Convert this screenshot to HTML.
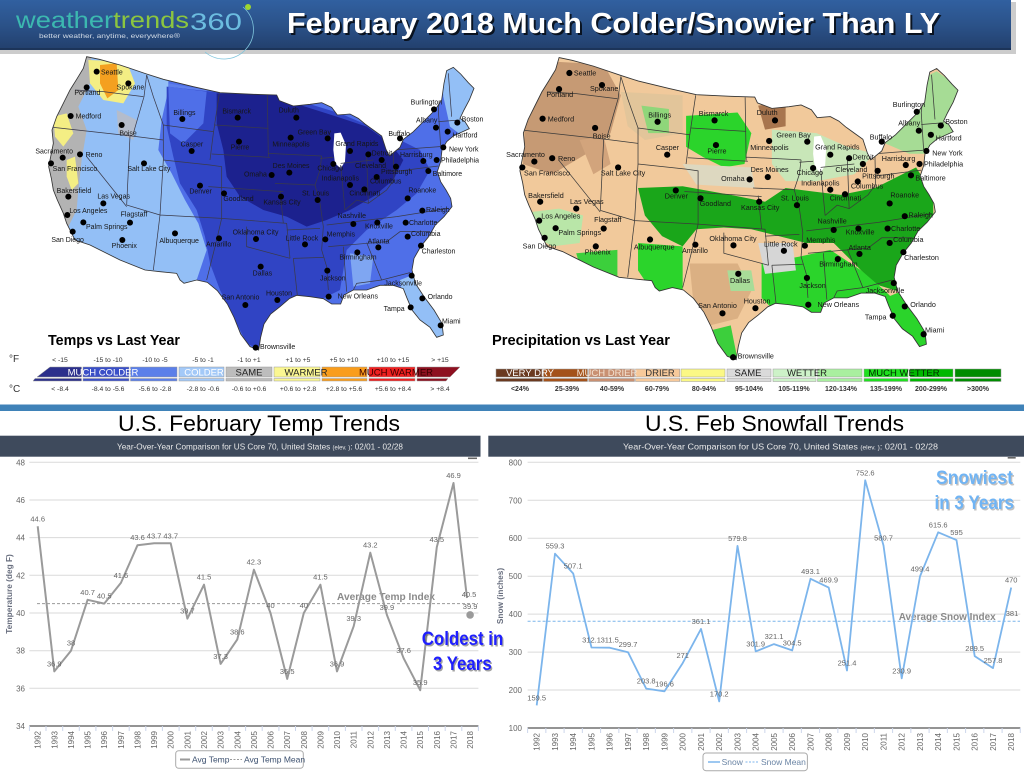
<!DOCTYPE html>
<html><head><meta charset="utf-8"><style>
html,body{margin:0;padding:0;background:#fff;}
body{width:1024px;height:772px;overflow:hidden;position:relative;}
svg{position:absolute;left:0;top:0;font-family:"Liberation Sans",sans-serif;}
</style></head><body>
<svg width="1024" height="772" viewBox="0 0 1024 772" xmlns="http://www.w3.org/2000/svg">
<defs>
<linearGradient id="hdr" x1="0" y1="0" x2="0" y2="1">
<stop offset="0" stop-color="#3160a0"/><stop offset="0.5" stop-color="#2b5289"/><stop offset="1" stop-color="#223f6c"/>
</linearGradient>
<path id="usp" d="M200,20 L238,28 L300,45 L380,72 L430,88 L520,110 L600,128 L700,133 L770,135 L778,152 L820,168 L870,163 L905,158 L935,172 L952,195 L990,192 L1015,205 L1035,222 L1060,240 L1085,258 L1098,298 L1108,318 L1140,292 L1150,268 L1180,245 L1215,210 L1245,180 L1265,150 L1272,100 L1280,62 L1300,52 L1322,72 L1345,98 L1362,115 L1348,150 L1332,180 L1320,205 L1335,215 L1348,236 L1326,246 L1300,258 L1280,275 L1266,300 L1262,335 L1252,365 L1262,395 L1278,420 L1292,445 L1296,470 L1272,500 L1246,525 L1226,560 L1202,590 L1182,625 L1176,660 L1186,700 L1212,740 L1242,780 L1266,820 L1270,855 L1250,862 L1230,832 L1200,810 L1176,780 L1160,742 L1150,716 L1120,706 L1080,706 L1040,720 L1000,720 L972,735 L962,762 L935,762 L910,746 L870,740 L830,736 L808,746 L780,770 L752,792 L732,822 L722,862 L716,900 L690,890 L662,852 L642,802 L622,762 L592,722 L562,697 L530,690 L492,700 L480,690 L470,670 L420,665 L375,660 L300,630 L240,600 L210,585 L165,570 L155,550 L140,520 L130,490 L112,450 L100,420 L94,385 L86,350 L92,320 L100,280 L96,240 L110,200 L130,160 L150,120 L170,88 L190,55 Z"/>
<clipPath id="usclip"><use href="#usp"/></clipPath>
<path id="brd" fill="none" d="M165,120 L250,125 L370,140 M380,75 L372,140 L340,250 M100,232 L335,258 L430,270 M380,75 L400,140 L430,225 L430,330 M430,225 L580,245 M598,130 L580,250 L570,330 M585,225 L745,235 M742,136 L745,320 M575,312 L750,322 M565,410 L790,425 M430,330 L570,345 L605,350 L605,505 M420,495 L605,505 M330,258 L320,465 M200,320 L320,470 M320,465 L420,495 M430,330 L420,495 M420,495 L400,660 M605,505 L590,570 L560,690 M605,505 L800,520 L810,625 M680,530 L680,590 L810,625 M780,422 L790,520 M745,310 L905,318 M765,400 L885,405 M905,318 L900,360 L885,405 L900,460 L910,530 L905,600 L920,650 L925,720 M900,325 L940,322 M962,345 L975,480 M1040,320 L1045,460 M1120,300 L1122,390 M962,340 L1060,330 M975,480 L1010,450 L1045,460 L1100,420 L1122,390 M920,525 L1130,500 M925,590 L1100,575 M1100,575 L1140,545 L1230,545 M1130,500 L1285,475 M970,590 L980,725 M1040,578 L1085,690 M1000,720 L1010,700 L1085,690 L1170,668 M820,625 L910,622 M820,625 L832,736 M800,540 L900,535 M1120,300 L1260,290 M1262,290 L1255,180 L1258,150 M1285,70 L1295,200 M1255,215 L1320,210 M1122,365 L1255,348"/>
</defs>

<!-- HEADER -->
<rect x="0" y="2" width="1016" height="52" fill="#9a9a9a" opacity="0.5"/>
<rect x="0" y="0" width="1011" height="50" fill="url(#hdr)"/>
<rect x="0" y="48" width="1011" height="2" fill="#1c3459"/>
<text x="16" y="28" font-size="23" textLength="173" lengthAdjust="spacingAndGlyphs"><tspan fill="#3cb8b0">weather</tspan><tspan fill="#8cc63f">trends</tspan></text>
<text x="190" y="30" font-size="24" fill="#6cbde0" textLength="52" lengthAdjust="spacingAndGlyphs">360</text>
<path d="M243,7 A29,29 0 1 1 205,52" fill="none" stroke="#7ec4dc" stroke-width="0.8"/>
<circle cx="248" cy="7" r="3" fill="#9ed630"/>
<text x="39" y="38" font-size="6" fill="#d0dae6" textLength="141" lengthAdjust="spacingAndGlyphs">better weather, anytime, everywhere®</text>
<text x="289" y="35" font-size="29" font-weight="bold" fill="#000" opacity="0.75" textLength="653" lengthAdjust="spacingAndGlyphs">February 2018 Much Colder/Snowier Than LY</text>
<text x="287" y="33" font-size="29" font-weight="bold" fill="#fff" textLength="653" lengthAdjust="spacingAndGlyphs">February 2018 Much Colder/Snowier Than LY</text>

<!-- LEFT MAP -->
<g transform="translate(20,50) scale(0.33333)">
<g clip-path="url(#usclip)">
<rect x="0" y="0" width="1420" height="960" fill="#4f6fe8"/>
<path fill="#93bff6" d="M0,0 L445,0 L445,120 L425,210 L415,300 L455,370 L495,450 L535,520 L560,600 L530,690 L470,760 L0,760 Z"/>
<path fill="#b3b3b3" d="M60,0 L215,0 L210,100 L175,170 L200,240 L185,330 L175,420 L170,480 L140,540 L60,540 Z"/>
<path fill="#f4ee84" d="M205,30 L320,35 L345,100 L310,160 L250,150 L210,100 Z"/>
<path fill="#f4ee84" d="M100,200 L140,190 L160,250 L130,290 L105,260 Z"/>
<path fill="#f4ee84" d="M140,330 L165,320 L175,400 L155,420 L140,380 Z"/>
<path fill="#f4a020" d="M240,45 L290,40 L295,120 L262,145 L240,100 Z"/>
<path fill="#b4bccb" d="M290,180 L350,210 L340,270 L295,250 Z"/>
<path fill="#5f80ec" d="M445,100 L560,120 L560,230 L500,300 L450,280 Z"/>
<path fill="#3044c4" d="M440,110 L600,128 L780,135 L960,190 L1100,250 L1200,300 L1230,360 L1190,430 L1130,480 L1040,540 L980,600 L960,720 L900,750 L830,740 L780,780 L745,830 L720,900 L680,880 L640,800 L600,720 L570,640 L555,560 L530,480 L480,400 L460,320 L440,230 Z"/>
<path fill="#4f6fe8" d="M445,110 L560,125 L550,220 L490,280 L450,250 Z"/>
<path fill="#1c218e" d="M590,130 L770,135 L840,165 L950,200 L1040,230 L1110,280 L1150,330 L1120,390 L1060,440 L990,480 L920,510 L860,530 L800,500 L730,480 L660,440 L620,380 L610,300 L590,220 Z"/>
<path fill="#7fa6f2" d="M990,610 L1060,620 L1050,700 L1000,710 Z"/>
<path fill="#93bff6" d="M1140,690 L1190,670 L1240,740 L1290,870 L1200,870 L1150,780 Z"/>
<path fill="#93bff6" d="M1265,40 L1400,40 L1380,230 L1330,260 L1290,230 L1270,140 Z"/>
<path fill="#fff" d="M943,250 L962,248 L978,285 L975,335 L962,355 L945,340 L940,300 Z"/>
<use href="#brd" stroke="#3a3a4a" stroke-width="2.2"/>
</g>
<use href="#usp" fill="none" stroke="#333" stroke-width="2.5"/>
<g fill="#000"><circle cx="230" cy="65" r="9"/><circle cx="325" cy="100" r="9"/><circle cx="200" cy="112" r="9"/><circle cx="152" cy="198" r="9"/><circle cx="305" cy="225" r="9"/><circle cx="487" cy="207" r="9"/><circle cx="653" cy="203" r="9"/><circle cx="829" cy="203" r="9"/><circle cx="1242" cy="178" r="9"/><circle cx="1248" cy="233" r="9"/><circle cx="1312" cy="218" r="9"/><circle cx="923" cy="265" r="9"/><circle cx="812" cy="263" r="9"/><circle cx="657" cy="275" r="9"/><circle cx="515" cy="303" r="9"/><circle cx="990" cy="303" r="9"/><circle cx="1140" cy="265" r="9"/><circle cx="1283" cy="245" r="9"/><circle cx="1270" cy="292" r="9"/><circle cx="128" cy="323" r="9"/><circle cx="180" cy="313" r="9"/><circle cx="1045" cy="313" r="9"/><circle cx="1210" cy="333" r="9"/><circle cx="1250" cy="330" r="9"/><circle cx="93" cy="340" r="9"/><circle cx="372" cy="340" r="9"/><circle cx="808" cy="368" r="9"/><circle cx="940" cy="342" r="9"/><circle cx="1085" cy="330" r="9"/><circle cx="1128" cy="350" r="9"/><circle cx="1225" cy="363" r="9"/><circle cx="755" cy="375" r="9"/><circle cx="990" cy="405" r="9"/><circle cx="1070" cy="381" r="9"/><circle cx="540" cy="407" r="9"/><circle cx="612" cy="430" r="9"/><circle cx="783" cy="440" r="9"/><circle cx="893" cy="450" r="9"/><circle cx="1033" cy="418" r="9"/><circle cx="1163" cy="445" r="9"/><circle cx="145" cy="440" r="9"/><circle cx="250" cy="460" r="9"/><circle cx="142" cy="495" r="9"/><circle cx="330" cy="518" r="9"/><circle cx="1000" cy="522" r="9"/><circle cx="1072" cy="518" r="9"/><circle cx="1207" cy="482" r="9"/><circle cx="1157" cy="518" r="9"/><circle cx="190" cy="517" r="9"/><circle cx="158" cy="545" r="9"/><circle cx="465" cy="550" r="9"/><circle cx="597" cy="565" r="9"/><circle cx="708" cy="567" r="9"/><circle cx="855" cy="583" r="9"/><circle cx="916" cy="568" r="9"/><circle cx="1163" cy="560" r="9"/><circle cx="1075" cy="592" r="9"/><circle cx="307" cy="570" r="9"/><circle cx="1012" cy="607" r="9"/><circle cx="1203" cy="587" r="9"/><circle cx="722" cy="650" r="9"/><circle cx="922" cy="662" r="9"/><circle cx="1175" cy="677" r="9"/><circle cx="772" cy="750" r="9"/><circle cx="926" cy="740" r="9"/><circle cx="676" cy="765" r="9"/><circle cx="1207" cy="745" r="9"/><circle cx="1172" cy="772" r="9"/><circle cx="1262" cy="826" r="9"/><circle cx="707" cy="893" r="9"/></g>
<g font-size="21" fill="#161616">
<text x="243" y="73">Seattle</text><text x="290" y="118">Spokane</text><text x="163" y="135">Portland</text><text x="167" y="206">Medford</text><text x="298" y="256">Boise</text><text x="460" y="195">Billings</text><text x="607" y="190">Bismarck</text><text x="776" y="188">Duluth</text><text x="1172" y="164">Burlington</text><text x="1188" y="218">Albany</text><text x="1325" y="214">Boston</text><text x="833" y="253">Green Bay</text><text x="757" y="290">Minneapolis</text><text x="632" y="299">Pierre</text><text x="482" y="290">Casper</text><text x="946" y="288">Grand Rapids</text><text x="1105" y="258">Buffalo</text><text x="1297" y="262">Hartford</text><text x="1287" y="305">New York</text><text x="46" y="310">Sacramento</text><text x="197" y="321">Reno</text><text x="1055" y="317">Detroit</text><text x="1140" y="321">Harrisburg</text><text x="1263" y="338">Philadelphia</text><text x="98" y="363">San Francisco</text><text x="322" y="363">Salt Lake City</text><text x="758" y="354">Des Moines</text><text x="892" y="362">Chicago</text><text x="1005" y="354">Cleveland</text><text x="1083" y="372">Pittsburgh</text><text x="1238" y="378">Baltimore</text><text x="672" y="379">Omaha</text><text x="905" y="392">Indianapolis</text><text x="1050" y="401">Columbus</text><text x="508" y="430">Denver</text><text x="610" y="453">Goodland</text><text x="730" y="464">Kansas City</text><text x="846" y="437">St. Louis</text><text x="988" y="437">Cincinnati</text><text x="1165" y="428">Roanoke</text><text x="110" y="429">Bakersfield</text><text x="232" y="446">Las Vegas</text><text x="148" y="489">Los Angeles</text><text x="302" y="499">Flagstaff</text><text x="953" y="504">Nashville</text><text x="1035" y="536">Knoxville</text><text x="1218" y="486">Raleigh</text><text x="1167" y="525">Charlotte</text><text x="198" y="537">Palm Springs</text><text x="94" y="576">San Diego</text><text x="418" y="579">Albuquerque</text><text x="558" y="589">Amarillo</text><text x="638" y="554">Oklahoma City</text><text x="797" y="571">Little Rock</text><text x="920" y="559">Memphis</text><text x="1173" y="558">Columbia</text><text x="1043" y="581">Atlanta</text><text x="275" y="594">Phoenix</text><text x="958" y="629">Birmingham</text><text x="1205" y="610">Charleston</text><text x="698" y="677">Dallas</text><text x="900" y="691">Jackson</text><text x="1093" y="706">Jacksonville</text><text x="738" y="737">Houston</text><text x="953" y="746">New Orleans</text><text x="605" y="749">San Antonio</text><text x="1223" y="747">Orlando</text><text x="1091" y="783">Tampa</text><text x="1266" y="821">Miami</text><text x="720" y="897">Brownsville</text>
</g>
</g>

<!-- RIGHT MAP -->
<g transform="translate(490.4,50.7) scale(0.3433)">
<g clip-path="url(#usclip)">
<rect x="0" y="0" width="1420" height="960" fill="#f1c99b"/>
<path fill="#c69a74" d="M150,30 L330,40 L380,130 L350,240 L280,300 L180,360 L95,330 L100,220 L130,120 Z"/>
<path fill="#d2a47c" d="M260,260 L330,250 L350,330 L300,360 Z"/>
<path fill="#e2c59a" d="M380,120 L560,130 L560,240 L450,260 L400,220 Z"/>
<path fill="#b9e6a8" d="M120,470 L200,460 L270,480 L260,560 L180,570 L130,540 Z"/>
<path fill="#1aa61a" d="M430,400 L560,395 L700,420 L800,440 L860,400 L940,410 L1020,420 L1120,400 L1200,360 L1240,340 L1290,420 L1290,490 L1230,560 L1200,640 L1185,700 L1120,680 L1060,620 L1000,560 L920,560 L840,540 L760,520 L680,515 L600,520 L560,570 L500,540 L450,480 Z"/>
<path fill="#2bd42b" d="M570,190 L720,180 L760,240 L740,330 L680,340 L620,310 L570,280 Z"/>
<path fill="#8fd67a" d="M440,160 L520,170 L520,240 L460,240 Z"/>
<path fill="#2bd42b" d="M430,560 L560,570 L560,700 L520,760 L470,700 L430,640 Z"/>
<path fill="#3ccf3c" d="M250,590 L370,580 L370,670 L270,660 Z"/>
<path fill="#2bd42b" d="M790,620 L900,600 L990,580 L1080,640 L1150,700 L1180,730 L1150,740 L1080,740 L1000,760 L950,790 L900,780 L830,760 L790,720 Z"/>
<path fill="#2bd42b" d="M1150,720 L1200,700 L1250,770 L1290,880 L1230,880 L1170,800 Z"/>
<path fill="#3ccf3c" d="M620,820 L700,800 L720,900 L660,900 Z"/>
<path fill="#c8e6b8" d="M820,230 L950,240 L1040,280 L1120,300 L1060,360 L950,380 L860,380 L820,330 Z"/>
<path fill="#a6dc95" d="M1180,200 L1260,80 L1300,60 L1370,110 L1350,240 L1290,300 L1220,300 L1150,270 Z"/>
<path fill="#d6d6d6" d="M780,560 L880,560 L890,640 L800,650 Z"/>
<path fill="#dbb083" d="M580,620 L720,620 L760,700 L720,780 L640,800 L590,720 Z"/>
<path fill="#a8dc98" d="M690,640 L760,640 L770,700 L700,700 Z"/>
<path fill="#ddd8c0" d="M560,330 L760,340 L770,400 L600,390 Z"/>
<path fill="#a8754e" d="M780,160 L860,150 L860,220 L800,230 Z"/>
<path fill="#fff" d="M943,250 L962,248 L978,285 L975,335 L962,355 L945,340 L940,300 Z"/>
<use href="#brd" stroke="#3a3a3a" stroke-width="2.2"/>
</g>
<use href="#usp" fill="none" stroke="#333" stroke-width="2.5"/>
<g fill="#000"><circle cx="230" cy="65" r="9"/><circle cx="325" cy="100" r="9"/><circle cx="200" cy="112" r="9"/><circle cx="152" cy="198" r="9"/><circle cx="305" cy="225" r="9"/><circle cx="487" cy="207" r="9"/><circle cx="653" cy="203" r="9"/><circle cx="829" cy="203" r="9"/><circle cx="1242" cy="178" r="9"/><circle cx="1248" cy="233" r="9"/><circle cx="1312" cy="218" r="9"/><circle cx="923" cy="265" r="9"/><circle cx="812" cy="263" r="9"/><circle cx="657" cy="275" r="9"/><circle cx="515" cy="303" r="9"/><circle cx="990" cy="303" r="9"/><circle cx="1140" cy="265" r="9"/><circle cx="1283" cy="245" r="9"/><circle cx="1270" cy="292" r="9"/><circle cx="128" cy="323" r="9"/><circle cx="180" cy="313" r="9"/><circle cx="1045" cy="313" r="9"/><circle cx="1210" cy="333" r="9"/><circle cx="1250" cy="330" r="9"/><circle cx="93" cy="340" r="9"/><circle cx="372" cy="340" r="9"/><circle cx="808" cy="368" r="9"/><circle cx="940" cy="342" r="9"/><circle cx="1085" cy="330" r="9"/><circle cx="1128" cy="350" r="9"/><circle cx="1225" cy="363" r="9"/><circle cx="755" cy="375" r="9"/><circle cx="990" cy="405" r="9"/><circle cx="1070" cy="381" r="9"/><circle cx="540" cy="407" r="9"/><circle cx="612" cy="430" r="9"/><circle cx="783" cy="440" r="9"/><circle cx="893" cy="450" r="9"/><circle cx="1033" cy="418" r="9"/><circle cx="1163" cy="445" r="9"/><circle cx="145" cy="440" r="9"/><circle cx="250" cy="460" r="9"/><circle cx="142" cy="495" r="9"/><circle cx="330" cy="518" r="9"/><circle cx="1000" cy="522" r="9"/><circle cx="1072" cy="518" r="9"/><circle cx="1207" cy="482" r="9"/><circle cx="1157" cy="518" r="9"/><circle cx="190" cy="517" r="9"/><circle cx="158" cy="545" r="9"/><circle cx="465" cy="550" r="9"/><circle cx="597" cy="565" r="9"/><circle cx="708" cy="567" r="9"/><circle cx="855" cy="583" r="9"/><circle cx="916" cy="568" r="9"/><circle cx="1163" cy="560" r="9"/><circle cx="1075" cy="592" r="9"/><circle cx="307" cy="570" r="9"/><circle cx="1012" cy="607" r="9"/><circle cx="1203" cy="587" r="9"/><circle cx="722" cy="650" r="9"/><circle cx="922" cy="662" r="9"/><circle cx="1175" cy="677" r="9"/><circle cx="772" cy="750" r="9"/><circle cx="926" cy="740" r="9"/><circle cx="676" cy="765" r="9"/><circle cx="1207" cy="745" r="9"/><circle cx="1172" cy="772" r="9"/><circle cx="1262" cy="826" r="9"/><circle cx="707" cy="893" r="9"/></g>
<g font-size="21" fill="#161616">
<text x="243" y="73">Seattle</text><text x="290" y="118">Spokane</text><text x="163" y="135">Portland</text><text x="167" y="206">Medford</text><text x="298" y="256">Boise</text><text x="460" y="195">Billings</text><text x="607" y="190">Bismarck</text><text x="776" y="188">Duluth</text><text x="1172" y="164">Burlington</text><text x="1188" y="218">Albany</text><text x="1325" y="214">Boston</text><text x="833" y="253">Green Bay</text><text x="757" y="290">Minneapolis</text><text x="632" y="299">Pierre</text><text x="482" y="290">Casper</text><text x="946" y="288">Grand Rapids</text><text x="1105" y="258">Buffalo</text><text x="1297" y="262">Hartford</text><text x="1287" y="305">New York</text><text x="46" y="310">Sacramento</text><text x="197" y="321">Reno</text><text x="1055" y="317">Detroit</text><text x="1140" y="321">Harrisburg</text><text x="1263" y="338">Philadelphia</text><text x="98" y="363">San Francisco</text><text x="322" y="363">Salt Lake City</text><text x="758" y="354">Des Moines</text><text x="892" y="362">Chicago</text><text x="1005" y="354">Cleveland</text><text x="1083" y="372">Pittsburgh</text><text x="1238" y="378">Baltimore</text><text x="672" y="379">Omaha</text><text x="905" y="392">Indianapolis</text><text x="1050" y="401">Columbus</text><text x="508" y="430">Denver</text><text x="610" y="453">Goodland</text><text x="730" y="464">Kansas City</text><text x="846" y="437">St. Louis</text><text x="988" y="437">Cincinnati</text><text x="1165" y="428">Roanoke</text><text x="110" y="429">Bakersfield</text><text x="232" y="446">Las Vegas</text><text x="148" y="489">Los Angeles</text><text x="302" y="499">Flagstaff</text><text x="953" y="504">Nashville</text><text x="1035" y="536">Knoxville</text><text x="1218" y="486">Raleigh</text><text x="1167" y="525">Charlotte</text><text x="198" y="537">Palm Springs</text><text x="94" y="576">San Diego</text><text x="418" y="579">Albuquerque</text><text x="558" y="589">Amarillo</text><text x="638" y="554">Oklahoma City</text><text x="797" y="571">Little Rock</text><text x="920" y="559">Memphis</text><text x="1173" y="558">Columbia</text><text x="1043" y="581">Atlanta</text><text x="275" y="594">Phoenix</text><text x="958" y="629">Birmingham</text><text x="1205" y="610">Charleston</text><text x="698" y="677">Dallas</text><text x="900" y="691">Jackson</text><text x="1093" y="706">Jacksonville</text><text x="738" y="737">Houston</text><text x="953" y="746">New Orleans</text><text x="605" y="749">San Antonio</text><text x="1223" y="747">Orlando</text><text x="1091" y="783">Tampa</text><text x="1266" y="821">Miami</text><text x="720" y="897">Brownsville</text>
</g>
</g>

<!-- TEMP LEGEND -->
<text x="48" y="345" font-size="15" font-weight="bold" fill="#000" textLength="132" lengthAdjust="spacingAndGlyphs">Temps vs Last Year</text>
<text x="9" y="362" font-size="10" fill="#333">°F</text>
<text x="9" y="392" font-size="10" fill="#333">°C</text>
<g font-size="6.8" fill="#333" text-anchor="middle">
<text x="60" y="362">&lt; -15</text><text x="108" y="362">-15 to -10</text><text x="155" y="362">-10 to -5</text><text x="203" y="362">-5 to -1</text><text x="249" y="362">-1 to +1</text><text x="298" y="362">+1 to +5</text><text x="344" y="362">+5 to +10</text><text x="393" y="362">+10 to +15</text><text x="440" y="362">&gt; +15</text>
<text x="60" y="391">&lt; -8.4</text><text x="108" y="391">-8.4 to -5.6</text><text x="155" y="391">-5.6 to -2.8</text><text x="203" y="391">-2.8 to -0.6</text><text x="249" y="391">-0.6 to +0.6</text><text x="298" y="391">+0.6 to +2.8</text><text x="344" y="391">+2.8 to +5.6</text><text x="393" y="391">+5.6 to +8.4</text><text x="440" y="391">&gt; +8.4</text>
</g>
<g stroke="#999" stroke-width="0.5">
<polygon points="37,377 50,367 81.5,367 81.5,377" fill="#2b2f8c"/>
<rect x="83" y="367" width="46" height="10" fill="#3a4fc7"/>
<rect x="130.5" y="367" width="46.5" height="10" fill="#5b7fe9"/>
<rect x="179" y="367" width="45" height="10" fill="#a3c9f8"/>
<rect x="226" y="367" width="46" height="10" fill="#bdbdbd"/>
<rect x="274" y="367" width="46" height="10" fill="#fbf791"/>
<rect x="322" y="367" width="45" height="10" fill="#f99d1c"/>
<rect x="369" y="367" width="46" height="10" fill="#ee2020"/>
<polygon points="417,367 460,367 450,377 417,377" fill="#8e1020"/>
<polygon points="33,381 35,378.5 81.5,378.5 81.5,381" fill="#2b2f8c"/>
<rect x="83" y="378.5" width="46" height="2.5" fill="#3a4fc7"/>
<rect x="130.5" y="378.5" width="46.5" height="2.5" fill="#5b7fe9"/>
<rect x="179" y="378.5" width="45" height="2.5" fill="#a3c9f8"/>
<rect x="226" y="378.5" width="46" height="2.5" fill="#bdbdbd"/>
<rect x="274" y="378.5" width="46" height="2.5" fill="#fbf791"/>
<rect x="322" y="378.5" width="45" height="2.5" fill="#f99d1c"/>
<rect x="369" y="378.5" width="46" height="2.5" fill="#ee2020"/>
<polygon points="417,378.5 448,378.5 446,381 417,381" fill="#8e1020"/>
</g>
<g font-size="9.5" text-anchor="middle">
<text x="103" y="375.5" fill="#fff">MUCH COLDER</text>
<text x="204" y="375.5" fill="#fff">COLDER</text>
<text x="249" y="375.5" fill="#222">SAME</text>
<text x="306" y="375.5" fill="#222">WARMER</text>
<text x="396" y="375.5" fill="#3a0000">MUCH WARMER</text>
</g>

<!-- PRECIP LEGEND -->
<text x="492" y="345" font-size="15" font-weight="bold" fill="#000" textLength="178" lengthAdjust="spacingAndGlyphs">Precipitation vs Last Year</text>
<g stroke="#999" stroke-width="0.5">
<rect x="496" y="369" width="46.5" height="8" fill="#6b3a20"/><rect x="543.5" y="369" width="44" height="8" fill="#a4521a"/><rect x="588.7" y="369" width="45.8" height="8" fill="#c99072"/><rect x="635.5" y="369" width="44.2" height="8" fill="#f7c99a"/><rect x="681" y="369" width="44" height="8" fill="#fbf885"/><rect x="727" y="369" width="44" height="8" fill="#dadada"/><rect x="773" y="369" width="43" height="8" fill="#cdf2c8"/><rect x="817.5" y="369" width="44.5" height="8" fill="#a9ef9f"/><rect x="864" y="369" width="44" height="8" fill="#1ee01e"/><rect x="910" y="369" width="43" height="8" fill="#00b800"/><rect x="955" y="369" width="46" height="8" fill="#008c00"/>
<rect x="496" y="378.5" width="46.5" height="3" fill="#6b3a20"/><rect x="543.5" y="378.5" width="44" height="3" fill="#a4521a"/><rect x="588.7" y="378.5" width="45.8" height="3" fill="#c99072"/><rect x="635.5" y="378.5" width="44.2" height="3" fill="#f7c99a"/><rect x="681" y="378.5" width="44" height="3" fill="#fbf885"/><rect x="727" y="378.5" width="44" height="3" fill="#dadada"/><rect x="773" y="378.5" width="43" height="3" fill="#cdf2c8"/><rect x="817.5" y="378.5" width="44.5" height="3" fill="#a9ef9f"/><rect x="864" y="378.5" width="44" height="3" fill="#1ee01e"/><rect x="910" y="378.5" width="43" height="3" fill="#00b800"/><rect x="955" y="378.5" width="46" height="3" fill="#008c00"/>
</g>
<g font-size="9.5" text-anchor="middle">
<text x="530" y="376" fill="#fff">VERY DRY</text>
<text x="607" y="376" fill="#f3e2d2">MUCH DRIER</text>
<text x="660" y="376" fill="#333">DRIER</text>
<text x="748" y="376" fill="#222">SAME</text>
<text x="807" y="376" fill="#222">WETTER</text>
<text x="904" y="376" fill="#002a00">MUCH WETTER</text>
</g>
<g font-size="7" font-weight="bold" fill="#333" text-anchor="middle">
<text x="520" y="391">&lt;24%</text><text x="567" y="391">25-39%</text><text x="612" y="391">40-59%</text><text x="657" y="391">60-79%</text><text x="704" y="391">80-94%</text><text x="749" y="391">95-104%</text><text x="794" y="391">105-119%</text><text x="841" y="391">120-134%</text><text x="886" y="391">135-199%</text><text x="931" y="391">200-299%</text><text x="978" y="391">&gt;300%</text>
</g>

<!-- DIVIDER -->
<rect x="0" y="404.5" width="1024" height="6.5" fill="#3f82b8"/>

<!-- LEFT CHART -->
<text x="259" y="431" font-size="22" text-anchor="middle" fill="#000" textLength="282" lengthAdjust="spacingAndGlyphs">U.S. February Temp Trends</text>
<rect x="0" y="435.7" width="480.5" height="21" fill="#3e4a5c"/>
<text x="260" y="449.5" font-size="8.3" text-anchor="middle" fill="#e8e8e8" textLength="286" lengthAdjust="spacingAndGlyphs">Year-Over-Year Comparison for US Core 70, United States <tspan font-size="6">(elev. )</tspan>: 02/01 - 02/28</text>
<rect x="468" y="457.5" width="9" height="1.6" fill="#666"/>
<g stroke="#dadada" stroke-width="1">
<line x1="29.4" y1="462.3" x2="478.4" y2="462.3"/><line x1="29.4" y1="500" x2="478.4" y2="500"/><line x1="29.4" y1="537.6" x2="478.4" y2="537.6"/><line x1="29.4" y1="575.3" x2="478.4" y2="575.3"/><line x1="29.4" y1="613" x2="478.4" y2="613"/><line x1="29.4" y1="650.7" x2="478.4" y2="650.7"/><line x1="29.4" y1="688.3" x2="478.4" y2="688.3"/>
</g>
<line x1="29.4" y1="726" x2="478.4" y2="726" stroke="#555" stroke-width="1.3"/>
<path d="M29.4,726V731M46,726V731M62.7,726V731M79.3,726V731M95.9,726V731M112.6,726V731M129.2,726V731M145.8,726V731M162.4,726V731M179.1,726V731M195.7,726V731M212.3,726V731M229,726V731M245.6,726V731M262.2,726V731M278.9,726V731M295.5,726V731M312.1,726V731M328.7,726V731M345.4,726V731M362,726V731M378.6,726V731M395.3,726V731M411.9,726V731M428.5,726V731M445.2,726V731M461.8,726V731M478.4,726V731" stroke="#ccd6eb" stroke-width="1"/>
<g font-size="8" fill="#666" text-anchor="end">
<text x="25" y="465.3">48</text><text x="25" y="503">46</text><text x="25" y="540.6">44</text><text x="25" y="578.3">42</text><text x="25" y="616">40</text><text x="25" y="653.7">38</text><text x="25" y="691.3">36</text><text x="25" y="729">34</text>
</g>
<text transform="translate(12,594) rotate(-90)" font-size="8.3" font-weight="bold" fill="#6a7080" text-anchor="middle">Temperature (deg F)</text>
<g font-size="8" fill="#666" text-anchor="end">
<text transform="translate(40.7,731) rotate(-90)">1992</text><text transform="translate(57.3,731) rotate(-90)">1993</text><text transform="translate(74,731) rotate(-90)">1994</text><text transform="translate(90.6,731) rotate(-90)">1995</text><text transform="translate(107.2,731) rotate(-90)">1996</text><text transform="translate(123.9,731) rotate(-90)">1997</text><text transform="translate(140.5,731) rotate(-90)">1998</text><text transform="translate(157.1,731) rotate(-90)">1999</text><text transform="translate(173.7,731) rotate(-90)">2000</text><text transform="translate(190.4,731) rotate(-90)">2001</text><text transform="translate(207,731) rotate(-90)">2002</text><text transform="translate(223.6,731) rotate(-90)">2003</text><text transform="translate(240.3,731) rotate(-90)">2004</text><text transform="translate(256.9,731) rotate(-90)">2005</text><text transform="translate(273.5,731) rotate(-90)">2006</text><text transform="translate(290.2,731) rotate(-90)">2007</text><text transform="translate(306.8,731) rotate(-90)">2008</text><text transform="translate(323.4,731) rotate(-90)">2009</text><text transform="translate(340,731) rotate(-90)">2010</text><text transform="translate(356.7,731) rotate(-90)">2011</text><text transform="translate(373.3,731) rotate(-90)">2012</text><text transform="translate(389.9,731) rotate(-90)">2013</text><text transform="translate(406.6,731) rotate(-90)">2014</text><text transform="translate(423.2,731) rotate(-90)">2015</text><text transform="translate(439.8,731) rotate(-90)">2016</text><text transform="translate(456.5,731) rotate(-90)">2017</text><text transform="translate(473.1,731) rotate(-90)">2018</text>
</g>
<line x1="37" y1="603.6" x2="478" y2="603.6" stroke="#9a9a9a" stroke-width="1" stroke-dasharray="3,2"/>
<text x="337" y="600" font-size="10" font-weight="bold" fill="#8a8a8a" textLength="98" lengthAdjust="spacingAndGlyphs">Average Temp Index</text>
<polyline fill="none" stroke="#9a9a9a" stroke-width="2" stroke-linejoin="round" points="37.7,526.3 54.3,671.4 71,650.7 87.6,599.8 104.2,603.6 120.9,582.9 137.5,545.2 154.1,543.3 170.7,543.3 187.4,618.6 204,584.7 220.6,663.9 237.3,639.4 253.9,569.7 270.5,613 287.2,678.9 303.8,613 320.4,584.7 337,671.4 353.7,626.2 370.3,552.7 386.9,614.9 403.6,658.2 420.2,690.2 436.8,547.1 453.5,483 467,598"/>
<circle cx="470.1" cy="614.9" r="3.8" fill="#9a9a9a"/>
<g font-size="7.5" fill="#666" text-anchor="middle">
<text x="37.7" y="521.3">44.6</text><text x="54.3" y="666.4">36.9</text><text x="71" y="645.7">38</text><text x="87.6" y="594.8">40.7</text><text x="104.2" y="598.6">40.5</text><text x="120.9" y="577.9">41.6</text><text x="137.5" y="540.2">43.6</text><text x="154.1" y="538.3">43.7</text><text x="170.7" y="538.3">43.7</text><text x="187.4" y="613.6">39.7</text><text x="204" y="579.7">41.5</text><text x="220.6" y="658.9">37.3</text><text x="237.3" y="634.4">38.6</text><text x="253.9" y="564.7">42.3</text><text x="270.5" y="608">40</text><text x="287.2" y="673.9">36.5</text><text x="303.8" y="608">40</text><text x="320.4" y="579.7">41.5</text><text x="337" y="666.4">36.9</text><text x="353.7" y="621.2">39.3</text><text x="370.3" y="547.7">43.2</text><text x="386.9" y="609.9">39.9</text><text x="403.6" y="653.2">37.6</text><text x="420.2" y="685.2">35.9</text><text x="436.8" y="542.1">43.5</text><text x="453.5" y="478">46.9</text><text x="469" y="597">40.5</text><text x="470.1" y="609">39.9</text>
</g>
<g font-size="19" font-weight="bold">
<text x="423" y="646.5" fill="#555" opacity="0.55" textLength="81.6" lengthAdjust="spacingAndGlyphs">Coldest in</text>
<text x="421.7" y="645" fill="#1f1fff" textLength="81.6" lengthAdjust="spacingAndGlyphs">Coldest in</text>
<text x="434.3" y="671.5" fill="#555" opacity="0.55" textLength="58.7" lengthAdjust="spacingAndGlyphs">3 Years</text>
<text x="433" y="670" fill="#1f1fff" textLength="58.7" lengthAdjust="spacingAndGlyphs">3 Years</text>
</g>
<rect x="175.7" y="750.7" width="127.6" height="17.6" rx="3" fill="#fff" stroke="#aaa" stroke-width="1"/>
<line x1="180" y1="759.5" x2="190" y2="759.5" stroke="#9a9a9a" stroke-width="2"/>
<line x1="230" y1="759.5" x2="242" y2="759.5" stroke="#9a9a9a" stroke-width="1" stroke-dasharray="2,1.5"/>
<text x="192" y="762.5" font-size="8.5" fill="#3d5170">Avg Temp</text>
<text x="244" y="762.5" font-size="8.5" fill="#3d5170">Avg Temp Mean</text>

<!-- RIGHT CHART -->
<text x="774.5" y="431" font-size="22" text-anchor="middle" fill="#000" textLength="259" lengthAdjust="spacingAndGlyphs">U.S. Feb Snowfall Trends</text>
<rect x="488.3" y="435.7" width="535.7" height="21" fill="#3e4a5c"/>
<text x="780.5" y="449.5" font-size="8.3" text-anchor="middle" fill="#e8e8e8" textLength="315" lengthAdjust="spacingAndGlyphs">Year-Over-Year Comparison for US Core 70, United States <tspan font-size="6">(elev. )</tspan>: 02/01 - 02/28</text>
<rect x="1007.7" y="457" width="8" height="1.6" fill="#666"/>
<g stroke="#dadada" stroke-width="1">
<line x1="527.6" y1="462.3" x2="1020.3" y2="462.3"/><line x1="527.6" y1="500.3" x2="1020.3" y2="500.3"/><line x1="527.6" y1="538.2" x2="1020.3" y2="538.2"/><line x1="527.6" y1="576.2" x2="1020.3" y2="576.2"/><line x1="527.6" y1="614.1" x2="1020.3" y2="614.1"/><line x1="527.6" y1="652.1" x2="1020.3" y2="652.1"/><line x1="527.6" y1="690" x2="1020.3" y2="690"/>
</g>
<line x1="527.6" y1="728" x2="1020.3" y2="728" stroke="#555" stroke-width="1.3"/>
<path d="M527.6,728V733M545.85,728V733M564.1,728V733M582.35,728V733M600.6,728V733M618.85,728V733M637.1,728V733M655.35,728V733M673.6,728V733M691.85,728V733M710.1,728V733M728.35,728V733M746.6,728V733M764.85,728V733M783.1,728V733M801.35,728V733M819.6,728V733M837.85,728V733M856.1,728V733M874.35,728V733M892.6,728V733M910.85,728V733M929.1,728V733M947.35,728V733M965.6,728V733M983.85,728V733M1002.1,728V733M1020.3,728V733" stroke="#ccd6eb" stroke-width="1"/>
<g font-size="8" fill="#666" text-anchor="end">
<text x="522" y="465.3">800</text><text x="522" y="503.3">700</text><text x="522" y="541.2">600</text><text x="522" y="579.2">500</text><text x="522" y="617.1">400</text><text x="522" y="655.1">300</text><text x="522" y="693">200</text><text x="522" y="731">100</text>
</g>
<text transform="translate(503,596) rotate(-90)" font-size="8.3" font-weight="bold" fill="#6a7080" text-anchor="middle">Snow (inches)</text>
<g font-size="8" fill="#666" text-anchor="end">
<text transform="translate(539.7,733) rotate(-90)">1992</text><text transform="translate(558,733) rotate(-90)">1993</text><text transform="translate(576.2,733) rotate(-90)">1994</text><text transform="translate(594.5,733) rotate(-90)">1995</text><text transform="translate(612.7,733) rotate(-90)">1996</text><text transform="translate(631,733) rotate(-90)">1997</text><text transform="translate(649.2,733) rotate(-90)">1998</text><text transform="translate(667.5,733) rotate(-90)">1999</text><text transform="translate(685.7,733) rotate(-90)">2000</text><text transform="translate(704,733) rotate(-90)">2001</text><text transform="translate(722.2,733) rotate(-90)">2002</text><text transform="translate(740.5,733) rotate(-90)">2003</text><text transform="translate(758.7,733) rotate(-90)">2004</text><text transform="translate(777,733) rotate(-90)">2005</text><text transform="translate(795.2,733) rotate(-90)">2006</text><text transform="translate(813.5,733) rotate(-90)">2007</text><text transform="translate(831.7,733) rotate(-90)">2008</text><text transform="translate(850,733) rotate(-90)">2009</text><text transform="translate(868.2,733) rotate(-90)">2010</text><text transform="translate(886.5,733) rotate(-90)">2011</text><text transform="translate(904.7,733) rotate(-90)">2012</text><text transform="translate(923,733) rotate(-90)">2013</text><text transform="translate(941.2,733) rotate(-90)">2014</text><text transform="translate(959.5,733) rotate(-90)">2015</text><text transform="translate(977.7,733) rotate(-90)">2016</text><text transform="translate(996,733) rotate(-90)">2017</text><text transform="translate(1014.2,733) rotate(-90)">2018</text>
</g>
<line x1="527.6" y1="621.3" x2="1020" y2="621.3" stroke="#7cb5ec" stroke-width="1" stroke-dasharray="3,2"/>
<text x="898.7" y="620" font-size="10" font-weight="bold" fill="#8a8a8a" textLength="97" lengthAdjust="spacingAndGlyphs">Average Snow Index</text>
<polyline fill="none" stroke="#7cb5ec" stroke-width="1.8" stroke-linejoin="round" points="536.7,705.4 555,553.7 573.2,573.5 591.5,647.5 609.7,647.7 628,652.2 646.2,688.6 664.5,691.3 682.7,663.1 701,628.9 719.2,701.4 737.5,545.9 755.7,651.4 774,644.1 792.2,650.4 810.5,578.8 828.7,587.6 847,670.5 865.2,480.3 883.5,545.5 901.7,678.3 920,576.4 938.2,532.3 956.5,540.1 974.7,656.1 993,668.1 1011.2,587.6"/>
<g font-size="7.5" fill="#666" text-anchor="middle">
<text x="536.7" y="700.4">159.5</text><text x="555" y="548.7">559.3</text><text x="573.2" y="568.5">507.1</text><text x="591.5" y="642.5">312.1</text><text x="609.7" y="642.7">311.5</text><text x="628" y="647.2">299.7</text><text x="646.2" y="683.6">203.8</text><text x="664.5" y="686.3">196.6</text><text x="682.7" y="658.1">271</text><text x="701" y="623.9">361.1</text><text x="719.2" y="696.4">170.2</text><text x="737.5" y="540.9">579.8</text><text x="755.7" y="646.4">301.9</text><text x="774" y="639.1">321.1</text><text x="792.2" y="645.4">304.5</text><text x="810.5" y="573.8">493.1</text><text x="828.7" y="582.6">469.9</text><text x="847" y="665.5">251.4</text><text x="865.2" y="475.3">752.6</text><text x="883.5" y="540.5">580.7</text><text x="901.7" y="673.3">230.9</text><text x="920" y="571.4">499.4</text><text x="938.2" y="527.3">615.6</text><text x="956.5" y="535.1">595</text><text x="974.7" y="651.1">289.5</text><text x="993" y="663.1">257.8</text><text x="1011.2" y="582.6">470</text><text x="1012" y="616">381</text>
</g>
<g font-size="19" font-weight="bold">
<text x="937.3" y="485.5" fill="#777" opacity="0.45" textLength="77" lengthAdjust="spacingAndGlyphs">Snowiest</text>
<text x="936" y="484" fill="#70b4f4" textLength="77" lengthAdjust="spacingAndGlyphs">Snowiest</text>
<text x="935.8" y="510.5" fill="#777" opacity="0.45" textLength="79.5" lengthAdjust="spacingAndGlyphs">in 3 Years</text>
<text x="934.5" y="509" fill="#70b4f4" textLength="79.5" lengthAdjust="spacingAndGlyphs">in 3 Years</text>
</g>
<rect x="703" y="753" width="104.4" height="17.7" rx="3" fill="#fff" stroke="#aaa" stroke-width="1"/>
<line x1="708" y1="762" x2="720" y2="762" stroke="#7cb5ec" stroke-width="1.5"/>
<line x1="745.5" y1="762" x2="759" y2="762" stroke="#7cb5ec" stroke-width="1" stroke-dasharray="2,1.5"/>
<text x="721.6" y="765" font-size="8.5" fill="#6b85a5">Snow</text>
<text x="761" y="765" font-size="8.5" fill="#6b85a5">Snow Mean</text>
</svg>
</body></html>
